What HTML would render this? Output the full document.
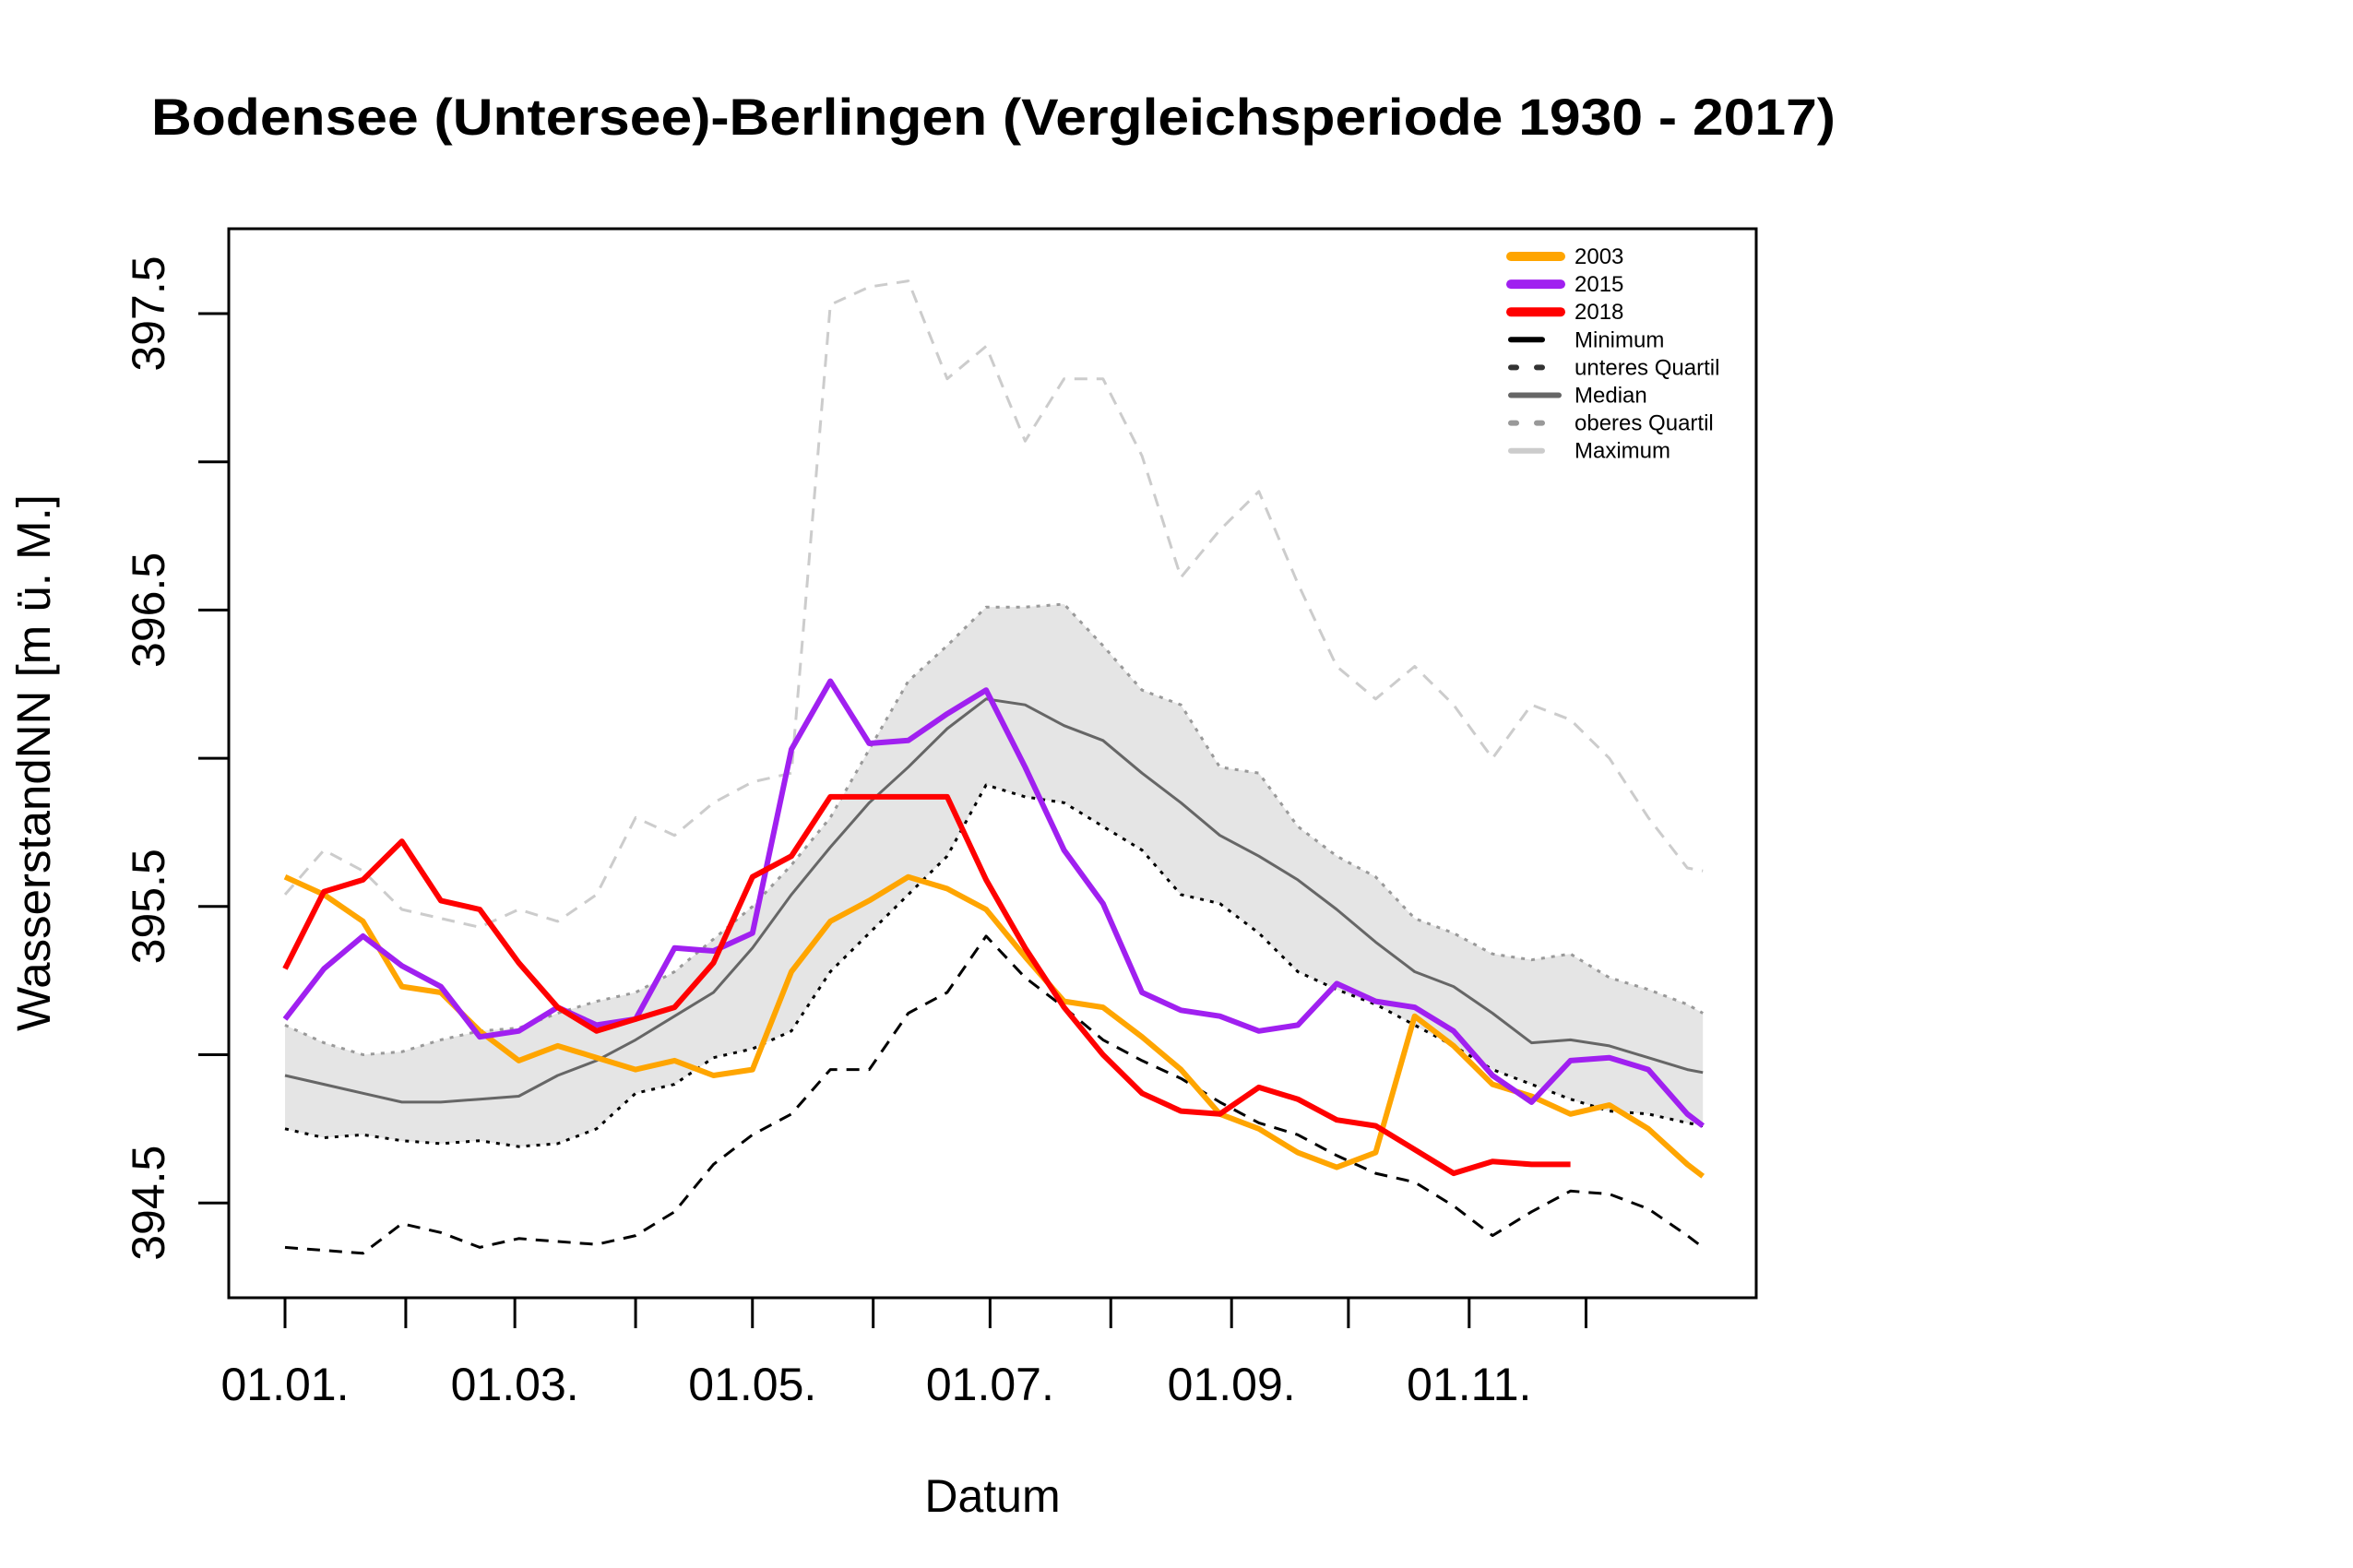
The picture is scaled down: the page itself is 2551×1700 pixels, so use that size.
<!DOCTYPE html>
<html><head><meta charset="utf-8"><style>
html,body{margin:0;padding:0;background:#fff;}
svg{display:block;font-family:"Liberation Sans",Arial,sans-serif;}
</style></head><body>
<svg id="chart" width="2551" height="1700" viewBox="0 0 2551 1700">
<rect width="2551" height="1700" fill="#fff"/>
<text x="164" y="146" font-size="56" font-weight="bold" textLength="1826" lengthAdjust="spacingAndGlyphs">Bodensee (Untersee)-Berlingen (Vergleichsperiode 1930 - 2017)</text>
<g id="plot"></g>
<rect x="248" y="248" width="1656" height="1159" fill="none" stroke="#000" stroke-width="3"/>
<g id="axes"></g>
<text x="1076" y="1639" font-size="50" text-anchor="middle">Datum</text>
<text transform="translate(54,827) rotate(-90)" font-size="51" text-anchor="middle">WasserstandNN [m ü. M.]</text>
<g id="legend"></g>
</svg>
<script>
const days = [0,10,20,30,40,50,60,70,80,90,100,110,120,130,140,150,160,170,180,190,200,210,220,230,240,250,260,270,280,290,300,310,320,330,340,350,360,364];
const maxVals = [395.54,395.69,395.62,395.49,395.46,395.43,395.49,395.45,395.54,395.80,395.74,395.85,395.92,395.95,397.53,397.59,397.61,397.28,397.39,397.07,397.28,397.28,397.02,396.61,396.77,396.90,396.59,396.31,396.20,396.31,396.18,396.00,396.18,396.13,396.00,395.80,395.63,395.62];
const minVals = [394.35,394.34,394.33,394.43,394.40,394.35,394.38,394.37,394.36,394.39,394.47,394.63,394.73,394.80,394.95,394.95,395.14,395.21,395.40,395.26,395.16,395.05,394.98,394.92,394.84,394.77,394.73,394.66,394.60,394.57,394.49,394.39,394.47,394.54,394.53,394.48,394.39,394.35];
const lowerQuartile = [394.75,394.72,394.73,394.71,394.70,394.71,394.69,394.70,394.75,394.87,394.90,394.99,395.02,395.08,395.28,395.41,395.54,395.67,395.91,395.87,395.85,395.77,395.69,395.54,395.51,395.41,395.28,395.22,395.17,395.10,395.03,394.95,394.90,394.85,394.81,394.80,394.77,394.76];
const upperQuartile = [395.10,395.04,395.00,395.01,395.05,395.08,395.09,395.14,395.18,395.21,395.28,395.39,395.50,395.64,395.80,396.03,396.26,396.38,396.51,396.51,396.52,396.38,396.23,396.18,395.97,395.95,395.77,395.67,395.60,395.46,395.41,395.34,395.32,395.34,395.26,395.22,395.17,395.14];
const medianVals = [394.93,394.90,394.87,394.84,394.84,394.85,394.86,394.93,394.98,395.05,395.13,395.21,395.36,395.54,395.70,395.85,395.97,396.10,396.20,396.18,396.11,396.06,395.95,395.85,395.74,395.67,395.59,395.49,395.38,395.28,395.23,395.14,395.04,395.05,395.03,394.99,394.95,394.94];
const y2003 = [395.60,395.54,395.45,395.23,395.21,395.08,394.98,395.03,394.99,394.95,394.98,394.93,394.95,395.28,395.45,395.52,395.60,395.56,395.49,395.33,395.18,395.16,395.06,394.95,394.80,394.75,394.67,394.62,394.67,395.13,395.03,394.90,394.86,394.80,394.83,394.75,394.63,394.59];
const y2015 = [395.12,395.29,395.40,395.30,395.23,395.06,395.08,395.16,395.10,395.12,395.36,395.35,395.41,396.03,396.26,396.05,396.06,396.15,396.23,395.97,395.69,395.51,395.21,395.15,395.13,395.08,395.10,395.24,395.18,395.16,395.08,394.93,394.84,394.98,394.99,394.95,394.80,394.76];
const y2018 = [395.29,395.55,395.59,395.72,395.52,395.49,395.31,395.16,395.08,395.12,395.16,395.31,395.60,395.67,395.87,395.87,395.87,395.87,395.59,395.36,395.16,395.00,394.87,394.81,394.80,394.89,394.85,394.78,394.76,394.68,394.60,394.64,394.63,394.63,null,null,null,null];
const monthStarts = [0,31,59,90,120,151,181,212,243,273,304,334];
const xTickLabels = ["01.01.","","01.03.","","01.05.","","01.07.","","01.09.","","01.11.",""];
const yTicks = [394.5,395,395.5,396,396.5,397,397.5];
const yTickLabels = ["394.5","","395.5","","396.5","","397.5"];

const NS = "http://www.w3.org/2000/svg";
function xs(d){ return 309 + d * 4.223; }
function ys(v){ return 340 + (397.5 - v) * 321.4; }
function mk(tag, attrs, parent){ const e = document.createElementNS(NS, tag); for (const k in attrs) e.setAttribute(k, attrs[k]); parent.appendChild(e); return e; }
const plot = document.getElementById('plot');
const axes = document.getElementById('axes');
const legend = document.getElementById('legend');

let bandPts = days.map((d,i)=>xs(d)+','+ys(upperQuartile[i]));
for (let i=days.length-1;i>=0;i--) bandPts.push(xs(days[i])+','+ys(lowerQuartile[i]));
const band = mk('polygon',{points:bandPts.join(' '),fill:'#e5e5e5',stroke:'none'},plot);



function line(vals, color, width, dash, name){
  let dstr = '', pen = false;
  vals.forEach((v,i)=>{ if (v===null){pen=false;return;} dstr += (pen?'L':'M') + xs(days[i]).toFixed(1) + ' ' + ys(v).toFixed(1) + ' '; pen = true; });
  const p = mk('path',{d:dstr,fill:'none',stroke:color,'stroke-width':width,'stroke-linejoin':'round','stroke-linecap':'butt'},plot);
  if (dash) p.setAttribute('stroke-dasharray', dash);
  
  
}
line(maxVals,'#cccccc',3,'14 10','maximum-line');
line(upperQuartile,'#999999',3,'4 7','upper-quartile-line');
line(medianVals,'#666666',3,null,'median-line');
line(lowerQuartile,'#000000',3,'4 7','lower-quartile-line');
line(minVals,'#000000',3,'14 10','minimum-line');
line(y2003,'#FFA500',6,null,'line-2003');
line(y2015,'#A020F0',6,null,'line-2015');
line(y2018,'#FF0000',6,null,'line-2018');

monthStarts.forEach((d,i)=>{
  const t = mk('line',{x1:xs(d),x2:xs(d),y1:1407,y2:1440,stroke:'#000','stroke-width':3},axes);
  
  
  if (xTickLabels[i]) {
    const tx = mk('text',{x:xs(d),y:1518,'font-size':50,'text-anchor':'middle'},axes);
    tx.textContent = xTickLabels[i];
    
    
  }
});
yTicks.forEach((v,i)=>{
  const t = mk('line',{x1:215,x2:248,y1:ys(v),y2:ys(v),stroke:'#000','stroke-width':3},axes);
  
  
  if (yTickLabels[i]) {
    const tx = mk('text',{transform:'translate(178,'+ys(v)+') rotate(-90)','font-size':50,'text-anchor':'middle'},axes);
    tx.textContent = yTickLabels[i];
    
    
  }
});
const legNames = ["2003","2015","2018","Minimum","unteres Quartil","Median","oberes Quartil","Maximum"];
const legColors = ["#FFA500","#A020F0","#FF0000","#000000","#333333","#666666","#999999","#cccccc"];
const legWidths = [10,10,10,6,6,6,6,6];
const legDash = [null,null,null,null,"6 22",null,"6 22",null];
const legLen = [54,54,54,34,42,52,42,34];
legNames.forEach((n,i)=>{
  const y = 278 + i*30.1;
  const l = mk('line',{x1:1638,x2:1638+legLen[i],y1:y,y2:y,stroke:legColors[i],'stroke-width':legWidths[i],'stroke-linecap':'round'},legend);
  if (legDash[i]) l.setAttribute('stroke-dasharray', legDash[i]);
  
  
  const t = mk('text',{x:1707,y:y+8,'font-size':24},legend);
  t.textContent = n;
  
  
});
</script>
</body></html>
